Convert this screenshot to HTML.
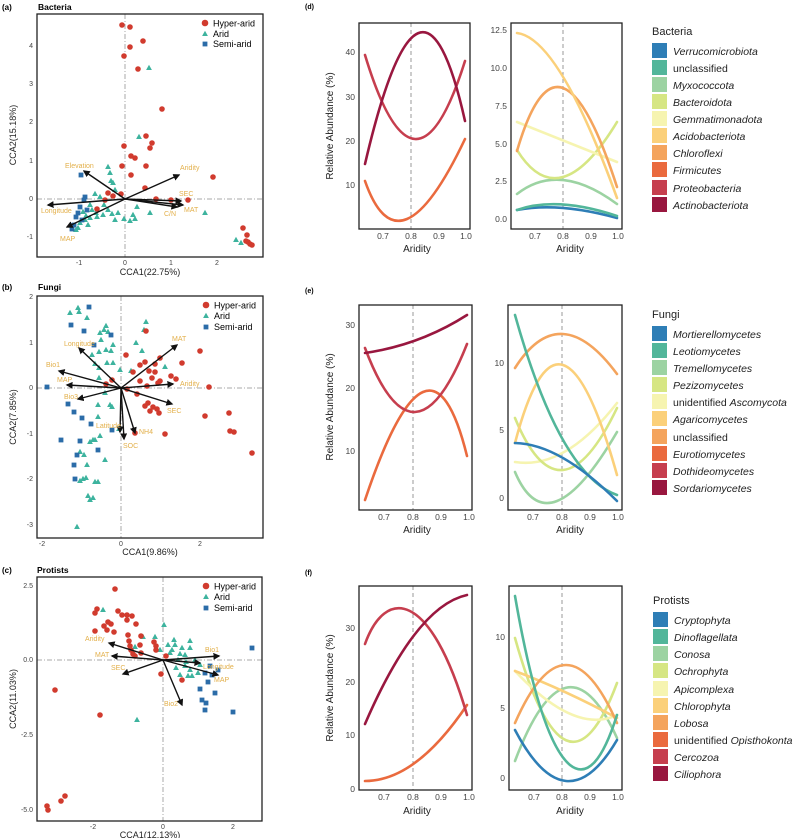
<!DOCTYPE html>
<html><head><meta charset="utf-8"><style>
html,body{margin:0;padding:0;background:#fff;}
svg{display:block;font-family:"Liberation Sans",sans-serif;}
.tk{font-size:7px;fill:#444;}
.at{font-size:9px;fill:#222;}
.tk2{font-size:8.5px;fill:#444;}
.at2{font-size:10px;fill:#222;}
.lg{font-size:10.5px;fill:#222;font-style:italic;}
.lgn{font-size:10.5px;fill:#222;}
.al{font-size:7px;fill:#E3B04B;}
.ref{stroke:#aaa;stroke-width:1;stroke-dasharray:5,2,1,2;}
.box{fill:none;stroke:#222;stroke-width:1.3;}
.cv{fill:none;stroke-width:2.6;stroke-linecap:round;}
.ar{stroke:#111;stroke-width:1.4;marker-end:url(#ah);}
.r{fill:#D13B2E;}.g{fill:#3DB39E;}.b{fill:#2B6CA8;}
.dl{stroke:#999;stroke-width:1;stroke-dasharray:4,3;}
</style></head><body>
<svg width="800" height="838" viewBox="0 0 800 838" xmlns="http://www.w3.org/2000/svg">
<defs>
<marker id="ah" markerWidth="5" markerHeight="5" refX="4" refY="2.5" orient="auto"><path d="M0,0 L5,2.5 L0,5Z" fill="#111"/></marker>
<path id="t" d="M0,-3.2 L2.9,2 L-2.9,2Z"/>
<rect id="s" x="-2.4" y="-2.4" width="4.8" height="4.8"/>
</defs>

<!-- ========== (a) ========== -->
<text x="2" y="10" font-size="8" font-weight="bold">(a)</text>
<text x="38" y="10" font-size="8.5" font-weight="bold">Bacteria</text>
<line class="ref" x1="37" y1="199" x2="263" y2="199"/>
<line class="ref" x1="125" y1="14" x2="125" y2="257"/>
<g class="g">
<use href="#t" x="149" y="68"/><use href="#t" x="139" y="137"/><use href="#t" x="108" y="167"/><use href="#t" x="110" y="173"/><use href="#t" x="111" y="181"/><use href="#t" x="113" y="183"/><use href="#t" x="115" y="190"/><use href="#t" x="95" y="194"/><use href="#t" x="100" y="197"/><use href="#t" x="104" y="205"/><use href="#t" x="108" y="210"/><use href="#t" x="112" y="214"/><use href="#t" x="115" y="220"/><use href="#t" x="103" y="215"/><use href="#t" x="97" y="217"/><use href="#t" x="90" y="218"/><use href="#t" x="86" y="216"/><use href="#t" x="80" y="223"/><use href="#t" x="78" y="228"/><use href="#t" x="76" y="230"/><use href="#t" x="124" y="219"/><use href="#t" x="135" y="219"/><use href="#t" x="133" y="215"/><use href="#t" x="150" y="213"/><use href="#t" x="137" y="207"/><use href="#t" x="205" y="213"/><use href="#t" x="236" y="240"/><use href="#t" x="241" y="243"/><use href="#t" x="90" y="205"/><use href="#t" x="92" y="210"/><use href="#t" x="96" y="213"/><use href="#t" x="83" y="212"/><use href="#t" x="85" y="220"/><use href="#t" x="88" y="225"/><use href="#t" x="118" y="213"/><use href="#t" x="130" y="221"/>
</g>
<g class="b">
<use href="#s" x="81" y="175"/><use href="#s" x="85" y="197"/><use href="#s" x="80" y="207"/><use href="#s" x="76" y="217"/><use href="#s" x="72" y="229"/><use href="#s" x="82" y="220"/><use href="#s" x="87" y="210"/><use href="#s" x="84" y="200"/><use href="#s" x="78" y="213"/><use href="#s" x="74" y="225"/>
</g>
<g class="r">
<circle cx="122" cy="25" r="2.8"/><circle cx="130" cy="27" r="2.8"/><circle cx="143" cy="41" r="2.8"/><circle cx="130" cy="47" r="2.8"/><circle cx="124" cy="56" r="2.8"/><circle cx="138" cy="69" r="2.8"/><circle cx="162" cy="109" r="2.8"/><circle cx="146" cy="136" r="2.8"/><circle cx="152" cy="143" r="2.8"/><circle cx="150" cy="148" r="2.8"/><circle cx="124" cy="146" r="2.8"/><circle cx="122" cy="166" r="2.8"/><circle cx="131" cy="156" r="2.8"/><circle cx="135" cy="158" r="2.8"/><circle cx="146" cy="166" r="2.8"/><circle cx="131" cy="175" r="2.8"/><circle cx="145" cy="188" r="2.8"/><circle cx="121" cy="194" r="2.8"/><circle cx="113" cy="196" r="2.8"/><circle cx="108" cy="193" r="2.8"/><circle cx="105" cy="200" r="2.8"/><circle cx="97" cy="209" r="2.8"/><circle cx="156" cy="199" r="2.8"/><circle cx="171" cy="200" r="2.8"/><circle cx="188" cy="200" r="2.8"/><circle cx="213" cy="177" r="2.8"/><circle cx="243" cy="228" r="2.8"/><circle cx="247" cy="235" r="2.8"/><circle cx="248" cy="242" r="2.8"/><circle cx="250" cy="244" r="2.8"/><circle cx="252" cy="245" r="2.8"/><circle cx="246" cy="241" r="2.8"/>
</g>
<g>
<line class="ar" x1="125" y1="199" x2="84" y2="171"/><line class="ar" x1="125" y1="199" x2="179" y2="175"/><line class="ar" x1="125" y1="199" x2="181" y2="201"/><line class="ar" x1="125" y1="199" x2="183" y2="205"/><line class="ar" x1="125" y1="199" x2="177" y2="207"/><line class="ar" x1="125" y1="199" x2="48" y2="205"/><line class="ar" x1="125" y1="199" x2="67" y2="227"/>
</g>
<text class="al" x="65" y="168">Elevation</text><text class="al" x="180" y="170">Aridity</text><text class="al" x="179" y="196">SEC</text><text class="al" x="184" y="212">MAT</text><text class="al" x="164" y="216">C/N</text><text class="al" x="41" y="213">Longitude</text><text class="al" x="60" y="241">MAP</text>
<rect class="box" x="37" y="14" width="226" height="243"/>
<g class="tk" text-anchor="middle"><text x="79" y="265">-1</text><text x="125" y="265">0</text><text x="171" y="265">1</text><text x="217" y="265">2</text></g>
<g class="tk" text-anchor="end"><text x="33" y="239">-1</text><text x="33" y="201">0</text><text x="33" y="163">1</text><text x="33" y="124">2</text><text x="33" y="86">3</text><text x="33" y="48">4</text></g>
<text class="at" x="150" y="275" text-anchor="middle">CCA1(22.75%)</text>
<text class="at" transform="translate(16,135) rotate(-90)" text-anchor="middle">CCA2(15.18%)</text>
<circle class="r" cx="205" cy="23" r="3.3"/><text x="213" y="26.5" font-size="9">Hyper-arid</text>
<use class="g" href="#t" x="205" y="34"/><text x="213" y="37" font-size="9">Arid</text>
<use class="b" href="#s" x="205" y="44"/><text x="213" y="47" font-size="9">Semi-arid</text>

<!-- ========== (b) ========== -->
<text x="2" y="290" font-size="8" font-weight="bold">(b)</text>
<text x="38" y="290" font-size="8.5" font-weight="bold">Fungi</text>
<line class="ref" x1="37" y1="388" x2="263" y2="388"/>
<line class="ref" x1="121" y1="296" x2="121" y2="538"/>
<g class="g">
<use href="#t" x="78" y="308"/><use href="#t" x="79" y="312"/><use href="#t" x="70" y="313"/><use href="#t" x="87" y="318"/><use href="#t" x="100" y="333"/><use href="#t" x="104" y="330"/><use href="#t" x="106" y="326"/><use href="#t" x="108" y="332"/><use href="#t" x="101" y="340"/><use href="#t" x="106" y="350"/><use href="#t" x="99" y="352"/><use href="#t" x="111" y="351"/><use href="#t" x="113" y="345"/><use href="#t" x="92" y="355"/><use href="#t" x="95" y="364"/><use href="#t" x="99" y="368"/><use href="#t" x="107" y="363"/><use href="#t" x="113" y="363"/><use href="#t" x="120" y="370"/><use href="#t" x="131" y="371"/><use href="#t" x="144" y="330"/><use href="#t" x="142" y="351"/><use href="#t" x="165" y="367"/><use href="#t" x="136" y="343"/><use href="#t" x="99" y="378"/><use href="#t" x="105" y="393"/><use href="#t" x="110" y="405"/><use href="#t" x="112" y="407"/><use href="#t" x="98" y="405"/><use href="#t" x="98" y="417"/><use href="#t" x="100" y="436"/><use href="#t" x="93" y="440"/><use href="#t" x="90" y="442"/><use href="#t" x="95" y="440"/><use href="#t" x="80" y="452"/><use href="#t" x="84" y="455"/><use href="#t" x="87" y="465"/><use href="#t" x="86" y="478"/><use href="#t" x="80" y="481"/><use href="#t" x="83" y="479"/><use href="#t" x="95" y="482"/><use href="#t" x="98" y="482"/><use href="#t" x="88" y="496"/><use href="#t" x="90" y="500"/><use href="#t" x="93" y="498"/><use href="#t" x="77" y="527"/><use href="#t" x="105" y="460"/><use href="#t" x="146" y="322"/><use href="#t" x="119" y="429"/>
</g>
<g class="b">
<use href="#s" x="89" y="307"/><use href="#s" x="71" y="325"/><use href="#s" x="84" y="331"/><use href="#s" x="111" y="335"/><use href="#s" x="47" y="387"/><use href="#s" x="68" y="404"/><use href="#s" x="74" y="412"/><use href="#s" x="82" y="418"/><use href="#s" x="91" y="424"/><use href="#s" x="61" y="440"/><use href="#s" x="80" y="441"/><use href="#s" x="98" y="450"/><use href="#s" x="77" y="455"/><use href="#s" x="74" y="465"/><use href="#s" x="75" y="479"/><use href="#s" x="112" y="430"/><use href="#s" x="94" y="345"/>
</g>
<g class="r">
<circle cx="146" cy="331" r="2.8"/><circle cx="126" cy="355" r="2.8"/><circle cx="145" cy="362" r="2.8"/><circle cx="160" cy="358" r="2.8"/><circle cx="155" cy="364" r="2.8"/><circle cx="149" cy="371" r="2.8"/><circle cx="140" cy="365" r="2.8"/><circle cx="133" cy="372" r="2.8"/><circle cx="140" cy="381" r="2.8"/><circle cx="155" cy="372" r="2.8"/><circle cx="152" cy="378" r="2.8"/><circle cx="160" cy="381" r="2.8"/><circle cx="171" cy="376" r="2.8"/><circle cx="176" cy="379" r="2.8"/><circle cx="182" cy="363" r="2.8"/><circle cx="200" cy="351" r="2.8"/><circle cx="209" cy="387" r="2.8"/><circle cx="205" cy="416" r="2.8"/><circle cx="229" cy="413" r="2.8"/><circle cx="230" cy="431" r="2.8"/><circle cx="234" cy="432" r="2.8"/><circle cx="252" cy="453" r="2.8"/><circle cx="145" cy="406" r="2.8"/><circle cx="148" cy="403" r="2.8"/><circle cx="150" cy="411" r="2.8"/><circle cx="153" cy="407" r="2.8"/><circle cx="157" cy="409" r="2.8"/><circle cx="159" cy="413" r="2.8"/><circle cx="165" cy="434" r="2.8"/><circle cx="135" cy="433" r="2.8"/><circle cx="106" cy="384" r="2.8"/><circle cx="112" cy="380" r="2.8"/><circle cx="127" cy="389" r="2.8"/><circle cx="137" cy="394" r="2.8"/><circle cx="147" cy="386" r="2.8"/><circle cx="158" cy="383" r="2.8"/>
</g>
<g>
<line class="ar" x1="121" y1="388" x2="177" y2="345"/><line class="ar" x1="121" y1="388" x2="79" y2="348"/><line class="ar" x1="121" y1="388" x2="59" y2="371"/><line class="ar" x1="121" y1="388" x2="67" y2="385"/><line class="ar" x1="121" y1="388" x2="78" y2="399"/><line class="ar" x1="121" y1="388" x2="173" y2="384"/><line class="ar" x1="121" y1="388" x2="172" y2="404"/><line class="ar" x1="121" y1="388" x2="135" y2="433"/><line class="ar" x1="121" y1="388" x2="124" y2="439"/><line class="ar" x1="121" y1="388" x2="120" y2="432"/>
</g>
<text class="al" x="172" y="341">MAT</text><text class="al" x="64" y="346">Longitude</text><text class="al" x="46" y="367">Bio1</text><text class="al" x="57" y="382">MAP</text><text class="al" x="64" y="399">Bio3</text><text class="al" x="180" y="386">Aridity</text><text class="al" x="167" y="413">SEC</text><text class="al" x="139" y="434">NH4</text><text class="al" x="123" y="448">SOC</text><text class="al" x="96" y="428">Latitude</text>
<rect class="box" x="37" y="296" width="226" height="242"/>
<g class="tk" text-anchor="middle"><text x="42" y="546">-2</text><text x="121" y="546">0</text><text x="200" y="546">2</text></g>
<g class="tk" text-anchor="end"><text x="33" y="527">-3</text><text x="33" y="481">-2</text><text x="33" y="436">-1</text><text x="33" y="390">0</text><text x="33" y="345">1</text><text x="33" y="299">2</text></g>
<text class="at" x="150" y="555" text-anchor="middle">CCA1(9.86%)</text>
<text class="at" transform="translate(16,417) rotate(-90)" text-anchor="middle">CCA2(7.85%)</text>
<circle class="r" cx="206" cy="305" r="3.3"/><text x="214" y="308.5" font-size="9">Hyper-arid</text>
<use class="g" href="#t" x="206" y="316"/><text x="214" y="319" font-size="9">Arid</text>
<use class="b" href="#s" x="206" y="327"/><text x="214" y="330" font-size="9">Semi-arid</text>

<!-- ========== (c) ========== -->
<text x="2" y="573" font-size="8" font-weight="bold">(c)</text>
<text x="37" y="573" font-size="8.5" font-weight="bold">Protists</text>
<line class="ref" x1="37" y1="660" x2="262" y2="660"/>
<line class="ref" x1="163" y1="577" x2="163" y2="821"/>
<g class="g">
<use href="#t" x="103" y="610"/><use href="#t" x="164" y="625"/><use href="#t" x="155" y="637"/><use href="#t" x="143" y="637"/><use href="#t" x="135" y="647"/><use href="#t" x="160" y="650"/><use href="#t" x="175" y="645"/><use href="#t" x="190" y="641"/><use href="#t" x="190" y="648"/><use href="#t" x="180" y="654"/><use href="#t" x="170" y="653"/><use href="#t" x="178" y="660"/><use href="#t" x="185" y="666"/><use href="#t" x="190" y="670"/><use href="#t" x="180" y="675"/><use href="#t" x="188" y="676"/><use href="#t" x="198" y="673"/><use href="#t" x="137" y="720"/><use href="#t" x="172" y="650"/><use href="#t" x="185" y="655"/><use href="#t" x="195" y="660"/><use href="#t" x="200" y="665"/><use href="#t" x="176" y="668"/><use href="#t" x="168" y="645"/><use href="#t" x="182" y="648"/><use href="#t" x="192" y="676"/><use href="#t" x="174" y="640"/><use href="#t" x="186" y="662"/>
</g>
<g class="b">
<use href="#s" x="252" y="648"/><use href="#s" x="210" y="666"/><use href="#s" x="205" y="673"/><use href="#s" x="208" y="682"/><use href="#s" x="200" y="689"/><use href="#s" x="202" y="700"/><use href="#s" x="206" y="703"/><use href="#s" x="205" y="710"/><use href="#s" x="233" y="712"/><use href="#s" x="215" y="693"/><use href="#s" x="212" y="675"/><use href="#s" x="218" y="670"/>
</g>
<g class="r">
<circle cx="115" cy="589" r="2.8"/><circle cx="97" cy="609" r="2.8"/><circle cx="95" cy="613" r="2.8"/><circle cx="118" cy="611" r="2.8"/><circle cx="108" cy="622" r="2.8"/><circle cx="104" cy="626" r="2.8"/><circle cx="111" cy="624" r="2.8"/><circle cx="122" cy="615" r="2.8"/><circle cx="127" cy="615" r="2.8"/><circle cx="127" cy="620" r="2.8"/><circle cx="132" cy="616" r="2.8"/><circle cx="136" cy="624" r="2.8"/><circle cx="114" cy="632" r="2.8"/><circle cx="128" cy="635" r="2.8"/><circle cx="107" cy="630" r="2.8"/><circle cx="95" cy="631" r="2.8"/><circle cx="129" cy="641" r="2.8"/><circle cx="130" cy="646" r="2.8"/><circle cx="141" cy="636" r="2.8"/><circle cx="140" cy="645" r="2.8"/><circle cx="141" cy="653" r="2.8"/><circle cx="131" cy="650" r="2.8"/><circle cx="133" cy="654" r="2.8"/><circle cx="135" cy="656" r="2.8"/><circle cx="154" cy="642" r="2.8"/><circle cx="156" cy="646" r="2.8"/><circle cx="156" cy="650" r="2.8"/><circle cx="166" cy="656" r="2.8"/><circle cx="161" cy="674" r="2.8"/><circle cx="182" cy="680" r="2.8"/><circle cx="55" cy="690" r="2.8"/><circle cx="100" cy="715" r="2.8"/><circle cx="47" cy="806" r="2.8"/><circle cx="48" cy="810" r="2.8"/><circle cx="61" cy="801" r="2.8"/><circle cx="65" cy="796" r="2.8"/>
</g>
<g>
<line class="ar" x1="163" y1="660" x2="109" y2="643"/><line class="ar" x1="163" y1="660" x2="112" y2="656"/><line class="ar" x1="163" y1="660" x2="123" y2="674"/><line class="ar" x1="163" y1="660" x2="219" y2="656"/><line class="ar" x1="163" y1="660" x2="200" y2="663"/><line class="ar" x1="163" y1="660" x2="218" y2="675"/><line class="ar" x1="163" y1="660" x2="182" y2="705"/>
</g>
<text class="al" x="85" y="641">Aridity</text><text class="al" x="95" y="657">MAT</text><text class="al" x="111" y="670">SEC</text><text class="al" x="205" y="652">Bio1</text><text class="al" x="203" y="669">Longitude</text><text class="al" x="214" y="682">MAP</text><text class="al" x="164" y="706">Bio2</text>
<rect class="box" x="37" y="577" width="225" height="244"/>
<g class="tk" text-anchor="middle"><text x="93" y="829">-2</text><text x="163" y="829">0</text><text x="233" y="829">2</text></g>
<g class="tk" text-anchor="end"><text x="33" y="812">-5.0</text><text x="33" y="737">-2.5</text><text x="33" y="662">0.0</text><text x="33" y="588">2.5</text></g>
<text class="at" x="150" y="838" text-anchor="middle">CCA1(12.13%)</text>
<text class="at" transform="translate(16,699) rotate(-90)" text-anchor="middle">CCA2(11.03%)</text>
<circle class="r" cx="206" cy="586" r="3.3"/><text x="214" y="589.5" font-size="9">Hyper-arid</text>
<use class="g" href="#t" x="206" y="597"/><text x="214" y="600" font-size="9">Arid</text>
<use class="b" href="#s" x="206" y="608"/><text x="214" y="611" font-size="9">Semi-arid</text>

<!-- ========== (d) ========== -->
<text x="305" y="9" font-size="7" font-weight="bold">(d)</text>
<line class="dl" x1="411" y1="23" x2="411" y2="229"/>
<path class="cv" stroke="#EA6A3E" d="M365,181 Q399,278 465,139"/>
<path class="cv" stroke="#C63E4E" d="M365,55 Q415,220 465,61"/>
<path class="cv" stroke="#99173F" d="M365,164 Q421,-76 465,121"/>
<rect class="box" x="359" y="23" width="111" height="206"/>
<g class="tk2" text-anchor="middle"><text x="383" y="239">0.7</text><text x="411" y="239">0.8</text><text x="439" y="239">0.9</text><text x="466" y="239">1.0</text></g>
<g class="tk2" text-anchor="end"><text x="355" y="188">10</text><text x="355" y="144">20</text><text x="355" y="100">30</text><text x="355" y="55">40</text></g>
<text class="at2" x="417" y="252" text-anchor="middle">Aridity</text>
<text class="at2" transform="translate(333,126) rotate(-90)" text-anchor="middle" font-size="9.5">Relative Abundance (%)</text>

<line class="dl" x1="563" y1="23" x2="563" y2="229"/>
<path class="cv" stroke="#2E7EB6" d="M517,210 Q559,202 617,218"/>
<path class="cv" stroke="#52B69A" d="M517,210 Q557,196 617,216"/>
<path class="cv" stroke="#9CD3A2" d="M517,194 Q559,161 617,204"/>
<path class="cv" stroke="#D6E683" d="M517,150 Q559,218 617,122"/>
<path class="cv" stroke="#F6F4B0" d="M517,122 Q565,141 617,162"/>
<path class="cv" stroke="#F4A45D" d="M517,151 Q559,7 617,187"/>
<path class="cv" stroke="#FBD07A" d="M517,33 Q559,38 617,198"/>
<rect class="box" x="511" y="23" width="111" height="206"/>
<g class="tk2" text-anchor="middle"><text x="535" y="239">0.7</text><text x="563" y="239">0.8</text><text x="591" y="239">0.9</text><text x="618" y="239">1.0</text></g>
<g class="tk2" text-anchor="end"><text x="507" y="222">0.0</text><text x="507" y="184">2.5</text><text x="507" y="147">5.0</text><text x="507" y="109">7.5</text><text x="507" y="71">10.0</text><text x="507" y="33">12.5</text></g>
<text class="at2" x="570" y="252" text-anchor="middle">Aridity</text>

<text x="652" y="35" font-size="11" fill="#222">Bacteria</text>
<g>
<rect x="652" y="43" width="15" height="15" fill="#2E7EB6"/><rect x="652" y="60" width="15" height="15" fill="#52B69A"/><rect x="652" y="77" width="15" height="15" fill="#9CD3A2"/><rect x="652" y="94" width="15" height="15" fill="#D6E683"/><rect x="652" y="111" width="15" height="15" fill="#F6F4B0"/><rect x="652" y="128" width="15" height="15" fill="#FBD07A"/><rect x="652" y="145" width="15" height="15" fill="#F4A45D"/><rect x="652" y="162" width="15" height="15" fill="#EA6A3E"/><rect x="652" y="180" width="15" height="15" fill="#C63E4E"/><rect x="652" y="197" width="15" height="15" fill="#99173F"/>
</g>
<text class="lg" x="673" y="55">Verrucomicrobiota</text>
<text class="lgn" x="673" y="72">unclassified</text>
<text class="lg" x="673" y="89">Myxococcota</text>
<text class="lg" x="673" y="106">Bacteroidota</text>
<text class="lg" x="673" y="123">Gemmatimonadota</text>
<text class="lg" x="673" y="140">Acidobacteriota</text>
<text class="lg" x="673" y="157">Chloroflexi</text>
<text class="lg" x="673" y="174">Firmicutes</text>
<text class="lg" x="673" y="192">Proteobacteria</text>
<text class="lg" x="673" y="209">Actinobacteriota</text>

<!-- ========== (e) ========== -->
<text x="305" y="293" font-size="7" font-weight="bold">(e)</text>
<line class="dl" x1="413" y1="305" x2="413" y2="510"/>
<path class="cv" stroke="#EA6A3E" d="M365,500 Q430,306 467,456"/>
<path class="cv" stroke="#C63E4E" d="M365,348 Q414,478 467,344"/>
<path class="cv" stroke="#99173F" d="M365,353 Q420,345 467,315"/>
<rect class="box" x="359" y="305" width="113" height="205"/>
<g class="tk2" text-anchor="middle"><text x="384" y="520">0.7</text><text x="413" y="520">0.8</text><text x="441" y="520">0.9</text><text x="469" y="520">1.0</text></g>
<g class="tk2" text-anchor="end"><text x="355" y="454">10</text><text x="355" y="391">20</text><text x="355" y="328">30</text></g>
<text class="at2" x="417" y="533" text-anchor="middle">Aridity</text>
<text class="at2" transform="translate(333,407) rotate(-90)" text-anchor="middle" font-size="9.5">Relative Abundance (%)</text>

<line class="dl" x1="562" y1="305" x2="562" y2="510" stroke-dasharray="2,2" stroke="#ccc"/>
<path class="cv" stroke="#9CD3A2" d="M515,472 Q548,550 617,432"/>
<path class="cv" stroke="#F6F4B0" d="M515,462 Q565,470 617,403"/>
<path class="cv" stroke="#D6E683" d="M515,418 Q560,527 617,408"/>
<path class="cv" stroke="#FBD07A" d="M515,443 Q560,271 617,475"/>
<path class="cv" stroke="#F4A45D" d="M515,368 Q560,297 617,374"/>
<path class="cv" stroke="#52B69A" d="M515,315 Q560,475 617,495"/>
<path class="cv" stroke="#2E7EB6" d="M515,443 Q560,444 617,501"/>
<rect class="box" x="508" y="305" width="114" height="205"/>
<g class="tk2" text-anchor="middle"><text x="533" y="520">0.7</text><text x="562" y="520">0.8</text><text x="590" y="520">0.9</text><text x="618" y="520">1.0</text></g>
<g class="tk2" text-anchor="end"><text x="504" y="501">0</text><text x="504" y="433">5</text><text x="504" y="366">10</text></g>
<text class="at2" x="570" y="533" text-anchor="middle">Aridity</text>

<text x="652" y="318" font-size="11" fill="#222">Fungi</text>
<g>
<rect x="652" y="326" width="15" height="15" fill="#2E7EB6"/><rect x="652" y="343" width="15" height="15" fill="#52B69A"/><rect x="652" y="360" width="15" height="15" fill="#9CD3A2"/><rect x="652" y="377" width="15" height="15" fill="#D6E683"/><rect x="652" y="394" width="15" height="15" fill="#F6F4B0"/><rect x="652" y="411" width="15" height="15" fill="#FBD07A"/><rect x="652" y="429" width="15" height="15" fill="#F4A45D"/><rect x="652" y="446" width="15" height="15" fill="#EA6A3E"/><rect x="652" y="463" width="15" height="15" fill="#C63E4E"/><rect x="652" y="480" width="15" height="15" fill="#99173F"/>
</g>
<text class="lg" x="673" y="338">Mortierellomycetes</text>
<text class="lg" x="673" y="355">Leotiomycetes</text>
<text class="lg" x="673" y="372">Tremellomycetes</text>
<text class="lg" x="673" y="389">Pezizomycetes</text>
<text class="lgn" x="673" y="406">unidentified <tspan font-style="italic">Ascomycota</tspan></text>
<text class="lg" x="673" y="423">Agaricomycetes</text>
<text class="lgn" x="673" y="441">unclassified</text>
<text class="lg" x="673" y="458">Eurotiomycetes</text>
<text class="lg" x="673" y="475">Dothideomycetes</text>
<text class="lg" x="673" y="492">Sordariomycetes</text>

<!-- ========== (f) ========== -->
<text x="305" y="575" font-size="7" font-weight="bold">(f)</text>
<line class="dl" x1="413" y1="586" x2="413" y2="790"/>
<path class="cv" stroke="#EA6A3E" d="M365,781 Q416,781 467,705"/>
<path class="cv" stroke="#C63E4E" d="M365,644 C385,588 430,588 467,715"/>
<path class="cv" stroke="#99173F" d="M365,724 Q416,606 467,595"/>
<rect class="box" x="359" y="586" width="113" height="204"/>
<g class="tk2" text-anchor="middle"><text x="384" y="800">0.7</text><text x="413" y="800">0.8</text><text x="441" y="800">0.9</text><text x="469" y="800">1.0</text></g>
<g class="tk2" text-anchor="end"><text x="355" y="792">0</text><text x="355" y="738">10</text><text x="355" y="685">20</text><text x="355" y="631">30</text></g>
<text class="at2" x="417" y="814" text-anchor="middle">Aridity</text>
<text class="at2" transform="translate(333,688) rotate(-90)" text-anchor="middle" font-size="9.5">Relative Abundance (%)</text>

<line class="dl" x1="562" y1="586" x2="562" y2="790"/>
<path class="cv" stroke="#9CD3A2" d="M515,761 Q566,626 617,738"/>
<path class="cv" stroke="#D6E683" d="M515,638 Q566,820 617,683"/>
<path class="cv" stroke="#F6F4B0" d="M515,671 Q575,735 617,715"/>
<path class="cv" stroke="#FBD07A" d="M515,671 Q565,690 617,718"/>
<path class="cv" stroke="#F4A45D" d="M515,723 Q566,607 617,723"/>
<path class="cv" stroke="#52B69A" d="M515,596 Q540,740 570,765 Q595,785 617,715"/>
<path class="cv" stroke="#2E7EB6" d="M515,730 Q566,827 617,740"/>
<rect class="box" x="509" y="586" width="113" height="204"/>
<g class="tk2" text-anchor="middle"><text x="534" y="800">0.7</text><text x="562" y="800">0.8</text><text x="590" y="800">0.9</text><text x="618" y="800">1.0</text></g>
<g class="tk2" text-anchor="end"><text x="505" y="781">0</text><text x="505" y="711">5</text><text x="505" y="640">10</text></g>
<text class="at2" x="570" y="814" text-anchor="middle">Aridity</text>

<text x="653" y="604" font-size="11" fill="#222">Protists</text>
<g>
<rect x="653" y="612" width="15" height="15" fill="#2E7EB6"/><rect x="653" y="629" width="15" height="15" fill="#52B69A"/><rect x="653" y="646" width="15" height="15" fill="#9CD3A2"/><rect x="653" y="663" width="15" height="15" fill="#D6E683"/><rect x="653" y="681" width="15" height="15" fill="#F6F4B0"/><rect x="653" y="698" width="15" height="15" fill="#FBD07A"/><rect x="653" y="715" width="15" height="15" fill="#F4A45D"/><rect x="653" y="732" width="15" height="15" fill="#EA6A3E"/><rect x="653" y="749" width="15" height="15" fill="#C63E4E"/><rect x="653" y="766" width="15" height="15" fill="#99173F"/>
</g>
<text class="lg" x="674" y="624">Cryptophyta</text>
<text class="lg" x="674" y="641">Dinoflagellata</text>
<text class="lg" x="674" y="658">Conosa</text>
<text class="lg" x="674" y="675">Ochrophyta</text>
<text class="lg" x="674" y="693">Apicomplexa</text>
<text class="lg" x="674" y="710">Chlorophyta</text>
<text class="lg" x="674" y="727">Lobosa</text>
<text class="lgn" x="674" y="744">unidentified <tspan font-style="italic">Opisthokonta</tspan></text>
<text class="lg" x="674" y="761">Cercozoa</text>
<text class="lg" x="674" y="778">Ciliophora</text>
</svg>
</body></html>
